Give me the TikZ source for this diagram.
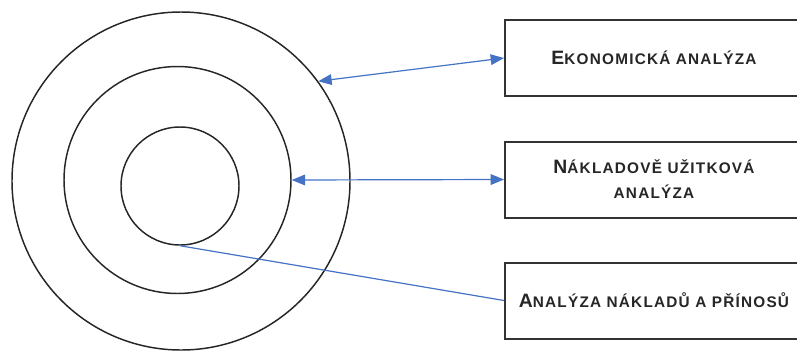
\documentclass[tikz,border=0pt]{standalone}
\usepackage{fontspec}
\setmainfont{Liberation Sans}
\newfontfamily\boxfont[LetterSpace=8]{Liberation Sans}
\usetikzlibrary{arrows.meta}
\definecolor{linkblue}{RGB}{68,114,196}
\newcommand{\capfirst}[2]{{\fontsize{14.5}{18.75}\selectfont #1}{\fontsize{11.5}{18.75}\selectfont #2}}

\begin{document}
\begin{tikzpicture}[x=0.75pt,y=-0.75pt,
	ring/.style={shape=circle,draw=black!85,line width=1.1pt,inner sep=0pt},
	labelbox/.style={draw=black!80,line width=1.5pt,fill=white,anchor=west,
		minimum width=223.5pt,minimum height=57pt,align=center,
		font=\boxfont\bfseries\fontsize{11.5}{18.75}\selectfont,text=black!85},
	link/.style={draw=linkblue,line width=0.9pt},
	twoway/.style={arrows={Triangle[length=10pt,width=8pt]-Triangle[length=10pt,width=8pt]}}]
	\useasboundingbox (0,0) rectangle (797,351);
	\clip (0,0) rectangle (797,351);
	
	\node[ring,minimum size=253.5pt] (outer)  at (181,181) {};
	\node[ring,minimum size=170.25pt] (middle) at (177.5,180) {};
	\node[ring,minimum size=88.5pt] (inner)  at (180,186) {};
	
	\node[labelbox] (eko) at (504,58)    {\capfirst{E}{KONOMICKÁ ANALÝZA}};
	\node[labelbox] (nua) at (504,179.5) {\capfirst{N}{ÁKLADOVĚ UŽITKOVÁ}\\\capfirst{}{ANALÝZA}};
	\node[labelbox] (anp) at (504,300.5) {\capfirst{A}{NALÝZA NÁKLADŮ A PŘÍNOSŮ}};
	
	\draw [link,twoway] (eko.west) -- (outer.36);
	\draw [link,twoway] (nua.west) -- (middle.east);
	\draw [link] (inner.south) -- (anp.west);
\end{tikzpicture}
\end{document}
